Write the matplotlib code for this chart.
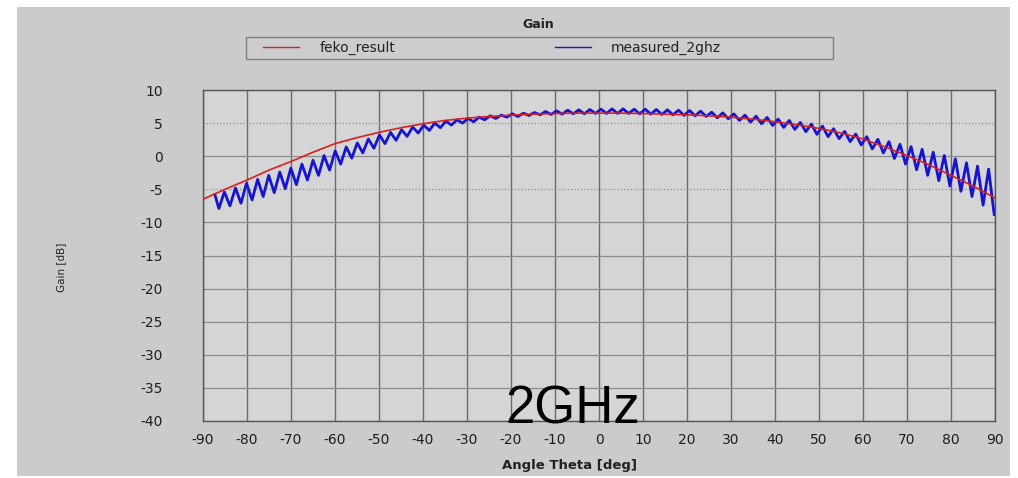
import matplotlib
matplotlib.use("Agg")
import matplotlib.pyplot as plt
from matplotlib.lines import Line2D
from matplotlib.patches import Rectangle

feko_theta = [-90, -85, -80, -75, -70, -65, -60, -55, -50, -45, -40, -35, -30,
              -25, -20, -15, -10, -5, 0, 5, 10, 15, 20, 25, 30, 35, 40, 45,
              50, 55, 60, 65, 70, 75, 80, 85, 90]
feko_gain = [-6.5, -5.0, -3.6, -2.1, -0.8, 0.6, 1.9, 2.8, 3.6, 4.3, 4.9, 5.4, 5.75,
             6.0, 6.2, 6.35, 6.45, 6.5, 6.5, 6.5, 6.45, 6.35, 6.25, 6.1, 5.9, 5.6,
             5.2, 4.75, 4.2, 3.5, 2.6, 1.4, 0.1, -1.3, -2.9, -4.5, -6.3]

# measured 2 GHz: start point, then ripple troughs / peaks
meas_theta = [-87.3,
              -86.40, -85.14, -83.88, -82.62, -81.37, -80.11, -78.85, -77.59, -76.33, -75.07,
              -73.81, -72.56, -71.30, -70.04, -68.78, -67.52, -66.26, -65.00, -63.75, -62.49,
              -61.23, -59.97, -58.71, -57.45, -56.19, -54.94, -53.68, -52.42, -51.16, -49.90,
              -48.64, -47.38, -46.12, -44.87, -43.61, -42.35, -41.09, -39.83, -38.57, -37.31,
              -36.06, -34.80, -33.54, -32.28, -31.02, -29.76, -28.50, -27.25, -25.99, -24.73,
              -23.47, -22.21, -20.95, -19.69, -18.44, -17.18, -15.92, -14.66, -13.40, -12.14,
              -10.88, -9.63, -8.37, -7.11, -5.85, -4.59, -3.33, -2.07, -0.81, 0.44,
              1.70, 2.96, 4.22, 5.48, 6.74, 8.00, 9.26, 10.51, 11.77, 13.03,
              14.29, 15.55, 16.81, 18.07, 19.32, 20.58, 21.84, 23.10, 24.36, 25.62,
              26.88, 28.13, 29.39, 30.65, 31.91, 33.17, 34.43, 35.69, 36.94, 38.20,
              39.46, 40.72, 41.98, 43.24, 44.50, 45.75, 47.01, 48.27, 49.53, 50.79,
              52.05, 53.31, 54.56, 55.82, 57.08, 58.34, 59.60, 60.86, 62.12, 63.37,
              64.63, 65.89, 67.15, 68.41, 69.67, 70.93, 72.18, 73.44, 74.70, 75.96,
              77.22, 78.48, 79.74, 80.99, 82.25, 83.51, 84.77, 86.03, 87.29, 88.55,
              89.81]
meas_gain = [-5.8,
             -7.9, -5.4, -7.5, -4.8, -7.1, -4.1, -6.6, -3.5, -6.1, -2.9,
             -5.5, -2.4, -4.9, -1.8, -4.3, -1.2, -3.6, -0.6, -2.9, 0.1,
             -2.1, 0.8, -1.2, 1.4, -0.3, 2.0, 0.5, 2.6, 1.2, 3.2,
             1.9, 3.6, 2.4, 4.0, 3.0, 4.4, 3.5, 4.7, 3.9, 5.0,
             4.3, 5.3, 4.7, 5.5, 5.0, 5.7, 5.2, 5.9, 5.5, 6.1,
             5.7, 6.2, 5.9, 6.4, 6.0, 6.5, 6.15, 6.6, 6.25, 6.75,
             6.3, 6.85, 6.35, 6.95, 6.4, 7.0, 6.4, 7.05, 6.45, 7.1,
             6.45, 7.15, 6.45, 7.15, 6.45, 7.1, 6.4, 7.1, 6.35, 7.05,
             6.3, 7.0, 6.25, 6.95, 6.15, 6.9, 6.1, 6.8, 6.0, 6.65,
             5.8, 6.55, 5.65, 6.4, 5.4, 6.2, 5.15, 6.05, 4.9, 5.85,
             4.65, 5.6, 4.35, 5.4, 4.05, 5.1, 3.7, 4.85, 3.3, 4.55,
             2.95, 4.15, 2.65, 3.75, 2.2, 3.35, 1.7, 2.95, 1.1, 2.55,
             0.5, 2.2, -0.35, 1.8, -1.2, 1.45, -2.05, 1.05, -2.9, 0.6,
             -3.7, 0.1, -4.5, -0.4, -5.3, -1.0, -6.1, -1.5, -7.4, -1.95,
             -8.8]

x_ticks = [-90, -80, -70, -60, -50, -40, -30, -20, -10, 0, 10, 20, 30, 40, 50, 60, 70, 80, 90]
y_ticks = [10, 5, 0, -5, -10, -15, -20, -25, -30, -35, -40]

W, H = 1018, 478
plt.rcParams['font.family'] = ['DejaVu Sans']

fig = plt.figure(figsize=(W / 100, H / 100), dpi=100)
fig.patch.set_facecolor('white')
# grey panel behind everything
fig.patches.append(Rectangle((17 / W, 1 - 476 / H), (1010 - 17) / W, (476 - 7) / H,
                             transform=fig.transFigure, facecolor='#cbcbcb',
                             edgecolor='none', zorder=-2))
# legend frame
fig.patches.append(Rectangle((246 / W, 1 - 59 / H), (833 - 246) / W, 22 / H,
                             transform=fig.transFigure, facecolor='#cdcdcd',
                             edgecolor='#808080', lw=1.0, zorder=-1))

ax = fig.add_axes([203 / W, 1 - 421 / H, (995 - 203) / W, (421 - 90) / H])
ax.set_facecolor('#d5d5d5')

for v in x_ticks:
    ax.axvline(v, color='#6a6a6a', lw=1.0, zorder=1)
for v in y_ticks:
    ls = ':' if v in (5, -5) else '-'
    ax.axhline(v, color='#8c8c8c', lw=0.9, ls=ls, zorder=1)

ax.plot(meas_theta, meas_gain, color='#1414d2', lw=2.0, solid_joinstyle='round', zorder=3)
ax.plot(feko_theta, feko_gain, color='#dc1e1e', lw=1.2, zorder=4)

ax.set_xlim(-90, 90)
ax.set_ylim(-40, 10)
ax.set_xticks(x_ticks)
ax.set_xticklabels([str(v) for v in x_ticks])
ax.set_yticks(y_ticks)
ax.set_yticklabels([str(v) for v in y_ticks])
ax.tick_params(axis='both', length=0, labelsize=10, colors='#1e1e1e')
ax.tick_params(axis='x', pad=9)
ax.tick_params(axis='y', pad=29)
for s in ax.spines.values():
    s.set_color('#555555')
    s.set_linewidth(1.0)

fig.text(538 / W, 1 - 25 / H, 'Gain', ha='center', va='center', fontsize=9,
         fontweight='bold', color='#222222')
fig.text(569 / W, 1 - 465 / H, 'Angle Theta [deg]', ha='center', va='center',
         fontsize=9.5, fontweight='bold', color='#222222')
fig.text(61 / W, 1 - 267 / H, 'Gain [dB]', ha='center', va='center', rotation=90,
         fontsize=7.5, color='#222222')
fig.text(573 / W, 1 - 423 / H, '2GHz', ha='center', va='baseline', fontsize=38,
         family='Liberation Sans', color='black')

handles = [Line2D([], [], color='#dc1e1e', lw=1.0),
           Line2D([], [], color='#1414d2', lw=1.0)]
leg = fig.legend(handles, ['feko_result', 'measured_2ghz'], loc='center left',
                 bbox_to_anchor=(263 / W, 1 - 48 / H), ncol=2, frameon=False,
                 fontsize=10, handlelength=2.6, handletextpad=1.45,
                 columnspacing=11.5, borderpad=0, borderaxespad=0)
for t in leg.get_texts():
    t.set_color('#222222')

fig.savefig('out.png', dpi=100)
